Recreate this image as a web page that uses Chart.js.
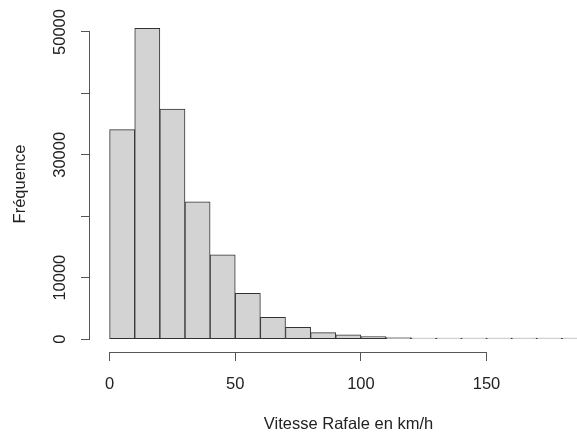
<!DOCTYPE html>
<html>
<head>
<meta charset="utf-8">
<script src="https://cdn.jsdelivr.net/npm/chart.js@4/dist/chart.umd.min.js"></script>
<style>
  body { margin: 0; background: #fff; }
  #wrap { width: 577px; height: 435px; }
</style>
</head>
<body>
<div id="wrap"><canvas id="histo"></canvas></div>
<script>
// bins of 10 km/h, start of each bin
const binStarts = [0, 10, 20, 30, 40, 50, 60, 70, 80, 90, 100, 110, 120, 130, 140, 150, 160, 170, 180];
const counts = [34100, 50600, 37450, 22350, 13700, 7450, 3550, 1900, 1050, 700, 420, 230, 180, 60, 25, 10, 5, 2, 1];
const xTicks = [0, 50, 100, 150];
const yTicks = [0, 10000, 20000, 30000, 40000, 50000];
const yLabels = ["0", "10000", "", "30000", "", "50000"];
const xTitle = "Vitesse Rafale en km/h";
const yTitle = "Fréquence";

const FONT = "Liberation Sans, Arial, sans-serif";
const AXIS_COLOR = "#555";
const TEXT_COLOR = "#222";

// R style detached axes, drawn from the chart scales
const rAxes = {
    id: "rAxes",
    afterDraw: function (chart) {
        let ctx = chart.ctx;
        let xs = chart.scales.x;
        let ys = chart.scales.y;
        let area = chart.chartArea;
        ctx.save();
        ctx.strokeStyle = AXIS_COLOR;
        ctx.lineWidth = 1;
        ctx.beginPath();
        let yb = Math.round(area.bottom) + 0.5;
        ctx.moveTo(xs.getPixelForValue(xTicks[0]), yb);
        ctx.lineTo(xs.getPixelForValue(xTicks[xTicks.length - 1]), yb);
        let xl = Math.round(area.left) - 0.5;
        ctx.moveTo(xl, ys.getPixelForValue(yTicks[0]));
        ctx.lineTo(xl, ys.getPixelForValue(yTicks[yTicks.length - 1]));
        ctx.stroke();

        ctx.fillStyle = TEXT_COLOR;
        ctx.font = "16.5px " + FONT;
        ctx.textAlign = "center";
        ctx.textBaseline = "alphabetic";
        // y tick labels, parallel to the axis
        yTicks.forEach(function (v, i) {
            if (!yLabels[i]) return;
            ctx.save();
            ctx.translate(65, ys.getPixelForValue(v));
            ctx.rotate(-Math.PI / 2);
            ctx.fillText(yLabels[i], 0, 0);
            ctx.restore();
        });
        // axis titles
        ctx.fillText(xTitle, 348.5, 429);
        ctx.save();
        ctx.translate(24.5, (area.top + area.bottom) / 2);
        ctx.rotate(-Math.PI / 2);
        ctx.fillText(yTitle, 0, 0);
        ctx.restore();
        ctx.restore();
    }
};

const points = binStarts.map(function (b, i) {
    return {x: b + 5, y: counts[i]};
});

const config = {
    type: "bar",
    data: {
        datasets: [{
            data: points,
            backgroundColor: "#D3D3D3",
            borderColor: "#333",
            borderWidth: 1,
            borderSkipped: false,
            minBarLength: 1,
            barPercentage: 1,
            categoryPercentage: 1
        }]
    },
    options: {
        responsive: true,
        maintainAspectRatio: false,
        animation: false,
        layout: {padding: {top: 16, right: 0, bottom: 0, left: 0}},
        plugins: {legend: {display: false}, tooltip: {enabled: false}},
        scales: {
            x: {
                type: "linear",
                min: -7.8,
                max: 186,
                offset: false,
                afterBuildTicks: function (scale) {
                    scale.ticks = xTicks.map(function (v) { return {value: v}; });
                },
                afterFit: function (scale) { scale.height = 83; },
                border: {display: false},
                grid: {offset: false, drawOnChartArea: false, tickLength: 9, tickColor: AXIS_COLOR},
                ticks: {
                    padding: 14,
                    maxRotation: 0,
                    color: TEXT_COLOR,
                    font: {family: FONT, size: 16.5},
                    callback: function (v) { return String(v); }
                }
            },
            y: {
                min: -2100,
                max: 52600,
                afterBuildTicks: function (scale) {
                    scale.ticks = yTicks.map(function (v) { return {value: v}; });
                },
                afterFit: function (scale) { scale.width = 90; },
                border: {display: false},
                grid: {drawOnChartArea: false, tickLength: 9, tickColor: AXIS_COLOR},
                ticks: {display: false}
            }
        }
    },
    plugins: [rAxes]
};

new Chart(document.getElementById("histo").getContext("2d"), config);
</script>
</body>
</html>
